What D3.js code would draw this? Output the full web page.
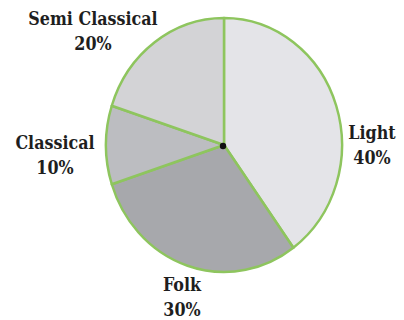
<!DOCTYPE html>
<html>
<head>
<meta charset="utf-8">
<script src="https://cdn.jsdelivr.net/npm/d3@7"></script>
<style>
  body { margin: 0; background: #fff; }
  svg { display: block; }
  .lbl { font-family: "DejaVu Serif", serif; }
</style>
</head>
<body>
<div id="chart"></div>
<script>
// Music preference share (clockwise from 12 o'clock)
const genres = ["Light", "Folk", "Classical", "Semi Classical"];
const shares = [40, 30, 10, 20];
const fills = ["#e4e4e8", "#a7a8ac", "#bcbdc1", "#d3d3d6"];

const W = 404, H = 320;
const cx = 224, cy = 145;
const rx = 118, ry = 127;

// label anchors (offset from pie centre, first line baseline)
const labelAnchors = [
  [148, -6],   // Light
  [-42, 146],  // Folk
  [-169, 4],   // Classical
  [-131, -120] // Semi Classical
];

const svg = d3.select("#chart").append("svg")
  .attr("width", W)
  .attr("height", H);

const pie = d3.pie().sort(null).value(d => d.v);
const arc = d3.arc().innerRadius(0).outerRadius(ry);

const data = genres.map((g, i) => ({ name: g, v: shares[i], fill: fills[i] }));
const arcs = pie(data);

const g = svg.append("g")
  .attr("transform", `translate(${cx},${cy}) scale(${rx / ry},1)`);

g.selectAll("path.slice")
  .data(arcs)
  .join("path")
  .attr("class", "slice")
  .attr("d", arc)
  .attr("fill", d => d.data.fill)
  .attr("stroke", "#8ec55e")
  .attr("stroke-width", 2.5)
  .attr("stroke-linejoin", "round")
  .attr("vector-effect", "non-scaling-stroke");

svg.append("circle")
  .attr("cx", cx - 1)
  .attr("cy", cy + 1)
  .attr("r", 3.2)
  .attr("fill", "#111");

const labels = svg.append("g")
  .attr("class", "lbl")
  .attr("font-weight", "bold")
  .attr("font-size", "19px")
  .attr("fill", "#1e1e1e")
  .attr("text-anchor", "middle");

// serif bold squeezed a bit to mimic the narrow Times-like face
arcs.forEach((d, i) => {
  const [dx, dy] = labelAnchors[i];
  const t = labels.append("text")
    .attr("transform", `translate(${cx + dx},${cy + dy}) scale(0.84,1)`);
  t.append("tspan").attr("x", 0).text(d.data.name);
  t.append("tspan").attr("x", 0).attr("dy", 25).text(d.data.v + "%");
});
</script>
</body>
</html>
